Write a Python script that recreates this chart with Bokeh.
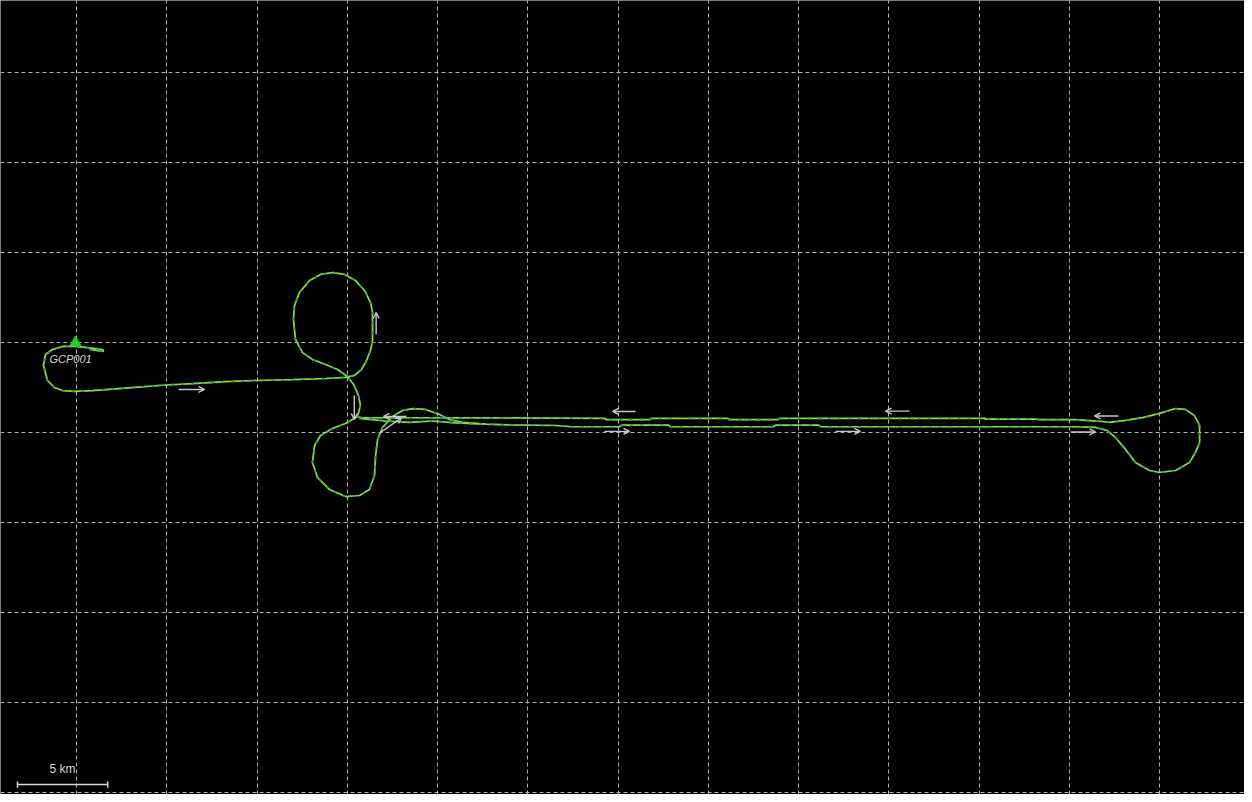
from bokeh.plotting import figure
from bokeh.models import (Range1d, Grid, SingleIntervalTicker, Arrow, OpenHead,
                          ColumnDataSource)
from bokeh.core.properties import value
from bokeh.embed import file_html
from bokeh.resources import INLINE

# ---- flight track (km, east / north) ----
track_x = [5.72, 6.50, 6.44, 5.61, 4.94, 4.22, 3.67, 3.28, 3.17, 3.39, 3.78, 4.22, 4.89, 5.89,
           7.71, 9.93, 11.43, 13.25, 14.92, 16.97, 18.80, 19.90,
           20.40, 20.79, 21.07, 21.29, 21.40, 21.40, 21.29, 20.96, 20.46, 19.85, 19.18, 18.52,
           17.91, 17.35, 17.08, 17.02, 17.13, 17.52, 18.07, 18.80, 19.46, 20.01, 20.35, 20.62,
           20.73, 20.57,
           19.90, 19.18, 18.52, 18.19, 18.07, 18.35, 19.02, 19.90, 20.68, 21.23, 21.51, 21.57,
           21.68, 21.95, 22.51, 23.06, 23.61, 24.34, 25.11, 25.66, 26.39, 27.66,
           28.99, 31.54, 32.48, 35.08, 35.19, 37.80, 37.91, 43.61, 43.73, 46.11, 46.22, 60.35,
           61.45, 62.12, 62.56, 63.12, 63.67, 64.45, 65.00, 65.89, 66.66, 66.99, 67.22, 67.22,
           66.94, 66.44, 65.89, 65.00, 64.06, 63.12, 62.23, 61.84, 61.29, 60.35,
           58.24, 58.24, 55.36, 55.36, 43.95, 43.84, 41.18, 41.07, 36.86, 36.75, 34.36, 34.25,
           28.05, 23.61, 21.95, 20.85, 20.62]
track_y = [24.61, 24.50, 24.61, 24.72, 24.78, 24.78, 24.61, 24.33, 23.72, 22.89, 22.50, 22.33, 22.28, 22.33,
           22.47, 22.64, 22.72, 22.83, 22.89, 22.94, 23.00, 23.06,
           23.17, 23.50, 24.00, 24.56, 25.11, 26.67, 27.22, 27.89, 28.44, 28.78, 28.89, 28.78,
           28.44, 27.78, 27.06, 26.28, 25.17, 24.44, 24.06, 23.78, 23.50, 23.11, 22.67, 22.06,
           21.50, 20.89,
           20.50, 20.22, 19.83, 19.28, 18.33, 17.50, 16.83, 16.44, 16.50, 16.83, 17.61, 18.72,
           19.61, 20.28, 20.89, 21.22, 21.33, 21.28, 21.00, 20.72, 20.56, 20.46,
           20.42, 20.39, 20.32, 20.32, 20.41, 20.41, 20.32, 20.32, 20.41, 20.41, 20.32, 20.32,
           20.28, 20.11, 19.72, 19.06, 18.33, 17.89, 17.78, 17.89, 18.33, 18.89, 19.44, 20.39,
           20.94, 21.28, 21.33, 21.06, 20.83, 20.67, 20.56, 20.61, 20.65, 20.71,
           20.71, 20.74, 20.74, 20.79, 20.79, 20.71, 20.71, 20.79, 20.79, 20.71, 20.71, 20.79,
           20.81, 20.82, 20.82, 20.81, 20.86]

# short connecting leg near the figure-eight junction
leg_x = [20.68, 22.12, 23.45, 24.72, 26.00, 27.66]
leg_y = [20.78, 20.64, 20.56, 20.64, 20.53, 20.46]

# ---- direction arrows (km) ----
arrow_x0 = [10.65, 21.60, 20.39, 23.28, 21.84, 35.97, 34.25, 51.15, 47.05, 62.73, 60.07]
arrow_y0 = [22.39, 25.44, 22.06, 20.89, 20.00, 21.17, 20.06, 21.19, 20.06, 20.92, 20.03]
arrow_x1 = [12.09, 21.60, 20.39, 22.01, 23.01, 34.70, 35.64, 49.82, 48.43, 61.40, 61.45]
arrow_y1 = [22.39, 26.67, 20.72, 20.89, 20.83, 21.17, 20.06, 21.19, 20.06, 20.92, 20.03]

# ---- ground control point ----
gcp_name = ["GCP001"]
gcp_x = [4.94]
gcp_y = [25.0]
gcp_label_x = [4.67]
gcp_label_y = [24.11]

# ---- scale bar ----
scale_label = ["5 km"]
scale_len_km = 5.0
scale_x0 = 1.73
scale_y = 0.44
scale_tick_half = 0.17
scale_label_y = 1.28

GRID_KM = 5

p = figure(width=1244, height=794, output_backend="svg", toolbar_location=None,
           x_axis_type=None, y_axis_type=None,
           x_range=Range1d(0.789, 69.709), y_range=Range1d(-0.111, 44.0),
           background_fill_color="black", border_fill_color="white",
           min_border=0, outline_line_color=None)

for dim in (0, 1):
    p.add_layout(Grid(dimension=dim, ticker=SingleIntervalTicker(interval=GRID_KM),
                      grid_line_color="#b4b4b4", grid_line_dash="4 3", grid_line_width=1))

GREEN = "#8ee61a"
TEAL = "#1f86c8"
for xs, ys in ((track_x, track_y), (leg_x, leg_y)):
    p.line(xs, ys, line_color=GREEN, line_width=1.7)
    p.line(xs, ys, line_color=TEAL, line_width=1.7, line_dash="3 7", line_alpha=0.9)
    p.line(xs, ys, line_color="#3fbf6a", line_width=1.7, line_dash="2 11",
           line_dash_offset=5, line_alpha=0.8)

asrc = ColumnDataSource(dict(x0=arrow_x0, y0=arrow_y0, x1=arrow_x1, y1=arrow_y1))
p.add_layout(Arrow(end=OpenHead(size=6, line_color="#c8c8c8", line_width=1.4),
                   x_start="x0", y_start="y0", x_end="x1", y_end="y1", source=asrc,
                   line_color="#c8c8c8", line_width=1.4))

p.scatter(gcp_x, gcp_y, marker="triangle", size=11, fill_color="#1ed21e",
          line_color="#1ed21e")
p.text(gcp_label_x, gcp_label_y, text=gcp_name, text_color="#dadada",
       text_font=value("Liberation Sans"), text_font_style="italic",
       text_font_size="11px", text_align="center", text_baseline="middle")

sx1 = scale_x0 + scale_len_km
p.segment([scale_x0, scale_x0, sx1], [scale_y, scale_y - scale_tick_half, scale_y - scale_tick_half],
          [sx1, scale_x0, sx1], [scale_y, scale_y + scale_tick_half, scale_y + scale_tick_half],
          line_color="#d8d8d8", line_width=1.5)
p.text([scale_x0 + scale_len_km / 2], [scale_label_y], text=scale_label, text_color="#d8d8d8",
       text_font=value("Liberation Sans"), text_font_size="12px",
       text_align="center", text_baseline="middle")

open("out.html", "w").write(file_html(p, INLINE))
